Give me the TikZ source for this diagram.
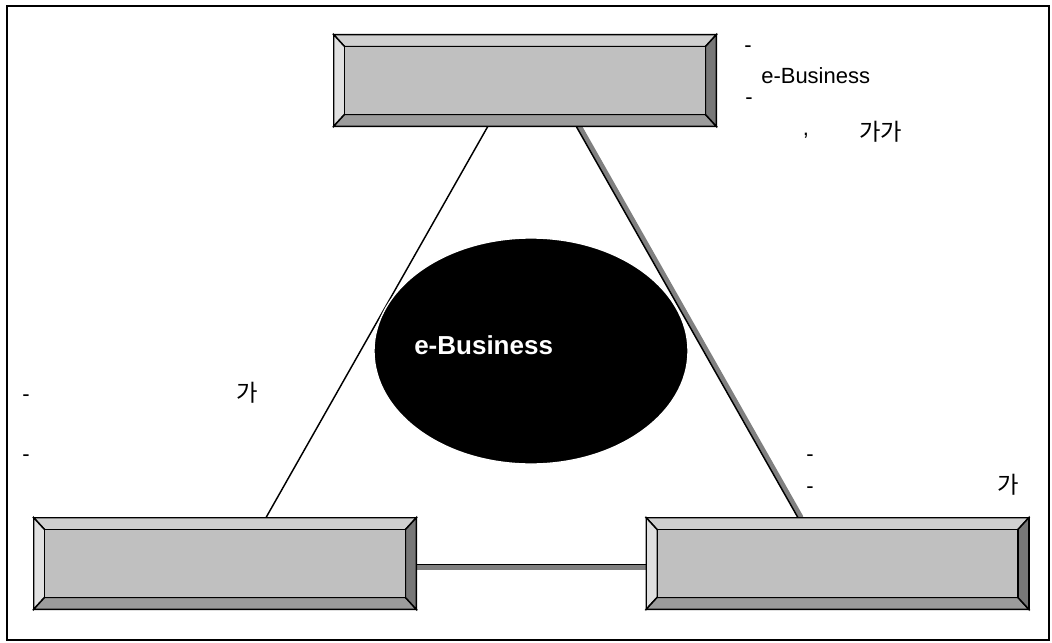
\documentclass[tikz,border=0pt]{standalone}
\usepackage{fontspec}
\usetikzlibrary{calc,shapes.geometric}
\setmainfont{Liberation Sans}
\newfontfamily\krf{Noto Sans CJK KR}
\definecolor{bevtop}{HTML}{D0D0D0}
\definecolor{bevleft}{HTML}{E0E0E0}
\definecolor{bevbot}{HTML}{9C9C9C}
\definecolor{bevright}{HTML}{777777}
\definecolor{bevface}{HTML}{C0C0C0}
\definecolor{linkgray}{HTML}{808080}
\newcommand\bevelbox[1]{%
  \path (#1.north west) coordinate (o1) (#1.north east) coordinate (o2)
        (#1.south east) coordinate (o3) (#1.south west) coordinate (o4);
  \path ($(o1)+(11,12)$) coordinate (i1) ($(o2)+(-11,12)$) coordinate (i2)
        ($(o3)+(-11,-12)$) coordinate (i3) ($(o4)+(11,-12)$) coordinate (i4);
  \draw[bevline,fill=bevtop] (o1)--(o2)--(i2)--(i1)--cycle;
  \draw[bevline,fill=bevleft] (o1)--(i1)--(i4)--(o4)--cycle;
  \draw[bevline,fill=bevbot] (o4)--(i4)--(i3)--(o3)--cycle;
  \draw[bevline,fill=bevright] (o2)--(o3)--(i3)--(i2)--cycle;
  \draw[bevline,fill=bevface] (i1) rectangle (i3);
  \draw[bevline] (o1) rectangle (o3);
}
\begin{document}
\begin{tikzpicture}[x=0.75pt,y=-0.75pt,
  bevline/.style={draw=black,line width=1.1pt,line join=miter},
  boxnode/.style={rectangle,inner sep=0pt,minimum width=286.5pt,minimum height=68.25pt},
  thinlink/.style={draw=black,line width=1.1pt},
  graylink/.style={draw=linkgray,line width=4pt},
  edgelink/.style={draw=black,line width=1.1pt},
  txt/.style={inner sep=0pt,anchor=base,font=\fontsize{16.5}{18}\selectfont},
  krtxt/.style={inner sep=0pt,anchor=base,font=\krf\fontsize{17.5}{20}\selectfont},
  coretxt/.style={inner sep=0pt,anchor=base west,text=white,font=\bfseries\fontsize{19.5}{22}\selectfont}]
\useasboundingbox (0,0) rectangle (1052,642);
\draw[line width=1.5pt] (7,6) rectangle (1049,640);

\node[boxnode] (top) at (525,80.5) {};
\node[boxnode] (bl) at (225,563.5) {};
\node[boxnode] (br) at (837.5,563.5) {};

% connectors
\path ($(top.south west)!0.403!(top.south east)$) coordinate (tl1)
      ($(bl.north west)!0.607!(bl.north east)$) coordinate (tl2);
\draw[thinlink] (tl1) -- (tl2);
\path ($(top.south west)!0.639!(top.south east)$) coordinate (tr1)
      ($(br.north west)!0.402!(br.north east)$) coordinate (tr2);
\draw[graylink] ($(tr1)+(1,0)$) -- ($(tr2)+(1,0)$);
\draw[edgelink] ($(tr1)+(-2,0)$) -- ($(tr2)+(-2,0)$);
\draw[graylink] ($(bl.east)+(0,4)$) -- ($(br.west)+(0,4)$);
\draw[edgelink] ($(bl.east)+(0,1)$) -- ($(br.west)+(0,1)$);

\bevelbox{top}
\bevelbox{bl}
\bevelbox{br}

% core
\node[ellipse,fill=black,draw=white,line width=1pt,inner sep=0pt,
      minimum width=235.5pt,minimum height=169.5pt] (core) at (531,351) {};
\node[coretxt] (coretext) at (414,354) {e-Business};

% top right texts
\node[txt] (d1) at (748,53) {-};
\node[txt,anchor=base west] (t1) at (761,84) {e-Business};
\node[txt] (d2) at (749,104) {-};
\node[txt] (c1) at (806,135) {,};
\node[krtxt,anchor=base west] (k1) at (859,140) {가가};

% left texts
\node[txt] (d3) at (26,401) {-};
\node[krtxt] (k2) at (247,401) {가};
\node[txt] (d4) at (26,461) {-};

% right texts
\node[txt] (d5) at (810,461) {-};
\node[txt] (d6) at (810,493) {-};
\node[krtxt] (k3) at (1008,493) {가};
\end{tikzpicture}
\end{document}
